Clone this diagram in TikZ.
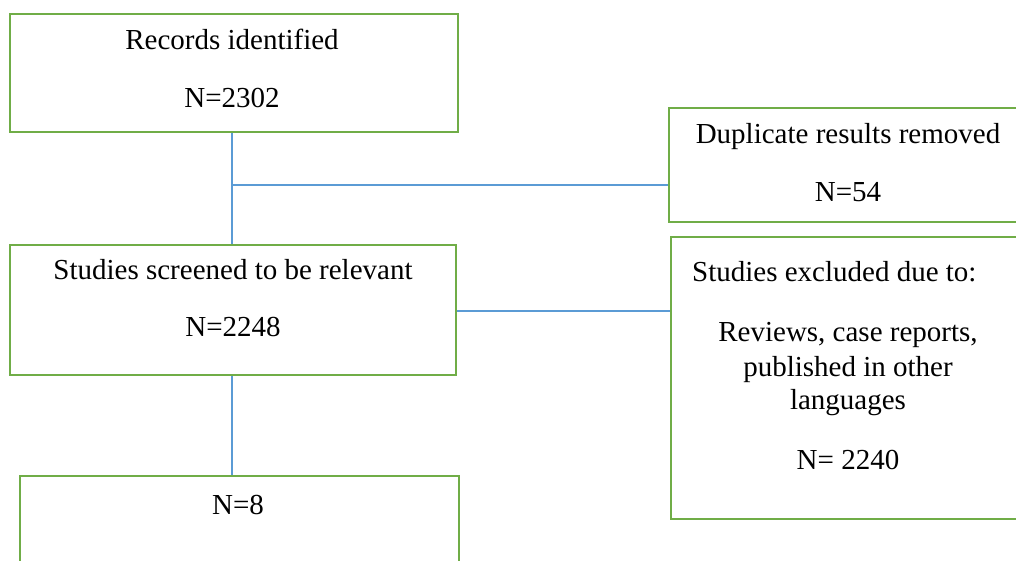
\documentclass[tikz,border=0pt]{standalone}
\usepackage{fontspec}
\setmainfont{Liberation Serif}
\definecolor{boxgreen}{HTML}{70AD47}
\definecolor{lineblue}{HTML}{5B9BD5}
\begin{document}
\begin{tikzpicture}[x=1pt,y=-1pt,
  box/.style={draw=boxgreen,line width=2pt,inner sep=0pt},
  conn/.style={draw=lineblue,line width=1.5pt},
  txt/.style={anchor=base,inner sep=0pt,font=\fontsize{29}{34}\selectfont}]
\useasboundingbox (0,0) rectangle (1016,561);
\clip (0,0) rectangle (1016,561);
% boxes
\node[box,minimum width=448pt,minimum height=118pt] (b1) at (234,73) {};
\node[box,minimum width=358pt,minimum height=114pt] (b2) at (848,165) {};
\node[box,minimum width=446pt,minimum height=130pt] (b3) at (233,310) {};
\node[box,minimum width=356pt,minimum height=282pt] (b4) at (849,378) {};
\node[box,minimum width=439pt,minimum height=110pt] (b5) at (239.5,531) {};
% texts
\node[txt] (t1a) at (232,50) {Records identified};
\node[txt] (t1b) at (232,108) {N=2302};
\node[txt] (t2a) at (848,144) {Duplicate results removed};
\node[txt] (t2b) at (848,202) {N=54};
\node[txt] (t3a) at (233,279) {Studies screened to be relevant};
\node[txt] (t3b) at (233,336) {N=2248};
\node[txt,anchor=base west] (t4a) at (692,281) {Studies excluded due to:};
\node[txt] (t4b) at (848,341) {Reviews, case reports,};
\node[txt] (t4c) at (848,376) {published in other};
\node[txt] (t4d) at (848,409) {languages};
\node[txt] (t4e) at (848,469) {N= 2240};
\node[txt] (t5a) at (238,514) {N=8};
% connectors
\coordinate (j) at (232,185);
\draw[conn] (b1.south -| j) -- (b3.north -| j);
\draw[conn] (j) -- (j -| b2.west);
\draw[conn] (b3.east |- 0,311) -- (b4.west |- 0,311);
\draw[conn] (b3.south -| j) -- (b5.north -| j);
\end{tikzpicture}
\end{document}
